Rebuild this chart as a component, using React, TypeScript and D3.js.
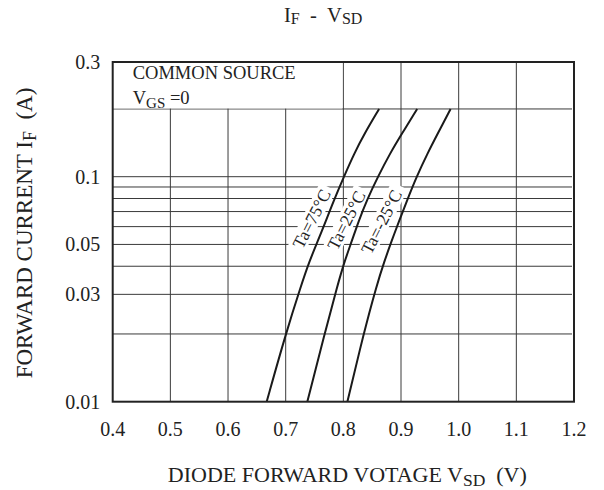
import React from 'react';
import * as d3 from 'd3';

// axis ticks
const xTicks = [0.4, 0.5, 0.6, 0.7, 0.8, 0.9, 1.0, 1.1, 1.2];
const yTickLabels = [0.3, 0.1, 0.05, 0.03, 0.01];
const yGrid = [0.02, 0.03, 0.04, 0.05, 0.06, 0.07, 0.08, 0.09, 0.1, 0.2];

// forward current I_F (A) and diode voltage V_SD (V) per temperature
const currents = [0.01, 0.02, 0.033, 0.042, 0.052, 0.063, 0.079, 0.1, 0.127, 0.156, 0.2];
const vsd75 = [0.667, 0.7, 0.727, 0.741, 0.756, 0.769, 0.784, 0.801, 0.819, 0.837, 0.862];
const vsd25 = [0.7375, 0.7675, 0.79, 0.802, 0.815, 0.826, 0.841, 0.86, 0.881, 0.902, 0.928];
const vsdM25 = [0.807, 0.835, 0.858, 0.871, 0.884, 0.896, 0.911, 0.927, 0.946, 0.964, 0.986];

const seriesLabels = ['Ta=75°C', 'Ta=25°C', 'Ta=-25°C'];
const labelV = [0.745, 0.805, 0.866];
const labelI = [0.065, 0.064, 0.063];

const FONT = '"Liberation Serif", "Times New Roman", serif';

export default function App() {
  const width = 604;
  const height = 490;
  const margin = { top: 62, right: 30, bottom: 88.3, left: 112.7 };

  const x = d3.scaleLinear().domain([0.4, 1.2]).range([margin.left, width - margin.right]);
  // one decade = 225px; the frame runs a little past 0.3 as in the datasheet
  const y = d3.scaleLog().domain([0.01, 0.1]).range([height - margin.bottom, height - margin.bottom - 225]);

  const line = d3
    .line<[number, number]>()
    .x((d) => x(d[0]))
    .y((d) => y(d[1]))
    .curve(d3.curveBasis);

  const series = [vsd75, vsd25, vsdM25].map((vs) =>
    vs.map((v, i) => [v, currents[i]] as [number, number])
  );

  const x0 = x(0.4);
  const x1 = x(1.2);
  const yTop = margin.top;
  const yBot = y(0.01);

  return (
    <div style={{ position: 'absolute', left: 0, top: 0 }}>
      <svg width={width} height={height} style={{ display: 'block', background: '#fff' }} fontFamily={FONT}>
        {/* title */}
        <text x={284} y={22} fontSize={20.5} fill="#222">
          I<tspan fontSize={16} dy={2}>F</tspan>
          <tspan dy={-2}>{'\u00a0\u00a0-\u00a0\u00a0'}V</tspan>
          <tspan fontSize={16} dy={2}>SD</tspan>
        </text>

        {/* vertical grid */}
        {xTicks.slice(1, -1).map((t) => (
          <line key={`vx${t}`} x1={x(t)} x2={x(t)} y1={yTop} y2={yBot} stroke="#3a3a3a" strokeWidth={1} />
        ))}
        {/* horizontal grid */}
        {yGrid.map((t) => (
          <line key={`hy${t}`} x1={x0} x2={x1 - 2} y1={y(t)} y2={y(t)} stroke="#3a3a3a" strokeWidth={1} />
        ))}

        {/* condition box, masks the grid above 0.2 */}
        <rect x={x0} y={yTop} width={x(0.8) - x0 - 1} height={y(0.2) - yTop - 0.5} fill="#fff" />
        <text x={x0 + 20} y={79} fontSize={18.5} fill="#222">COMMON SOURCE</text>
        <text x={x0 + 20} y={104} fontSize={18.5} fill="#222">
          V<tspan fontSize={15} dy={4}>GS</tspan>
          <tspan dy={-4}> =0</tspan>
        </text>

        {/* label backgrounds */}
        {seriesLabels.map((s, i) => (
          <g key={`bg${s}`} transform={`translate(${x(labelV[i])},${y(labelI[i])}) rotate(-63)`}>
            <rect x={-s.length * 4.7 - 3} y={-9} width={s.length * 9.4 + 6} height={18} fill="#fff" />
          </g>
        ))}

        {/* curves */}
        {series.map((d, i) => (
          <path key={`c${i}`} d={line(d) ?? ''} fill="none" stroke="#1a1a1a" strokeWidth={2} />
        ))}

        {/* curve labels */}
        {seriesLabels.map((s, i) => (
          <text
            key={`lb${s}`}
            transform={`translate(${x(labelV[i])},${y(labelI[i])}) rotate(-63)`}
            textAnchor="middle"
            dominantBaseline="central"
            fontSize={17.5}
            fill="#222"
          >
            {s}
          </text>
        ))}

        {/* frame */}
        <rect x={x0} y={yTop} width={x1 - x0} height={yBot - yTop} fill="none" stroke="#222" strokeWidth={2} />

        {/* x tick labels */}
        {xTicks.map((t) => (
          <text key={`xt${t}`} x={x(t)} y={yBot + 34} textAnchor="middle" fontSize={20} fill="#222">
            {t.toFixed(1)}
          </text>
        ))}
        {/* y tick labels */}
        {yTickLabels.map((t) => (
          <text
            key={`yt${t}`}
            x={x0 - 12.5}
            y={t === 0.3 ? yTop : y(t)}
            textAnchor="end"
            dominantBaseline="central"
            fontSize={20}
            fill="#222"
          >
            {t}
          </text>
        ))}

        {/* axis titles */}
        <text x={(x0 + x1) / 2 + 4} y={yBot + 80} textAnchor="middle" fontSize={22} fill="#222">
          DIODE FORWARD VOTAGE V<tspan fontSize={17.5} dy={4}>SD</tspan>
          <tspan dy={-4}>{'\u00a0\u00a0(V)'}</tspan>
        </text>
        <text transform={`translate(32,233) rotate(-90)`} textAnchor="middle" fontSize={23} fill="#222">
          FORWARD CURRENT I<tspan fontSize={18} dy={4}>F</tspan>
          <tspan dy={-4}>{'\u00a0\u00a0(A)'}</tspan>
        </text>
      </svg>
    </div>
  );
}
